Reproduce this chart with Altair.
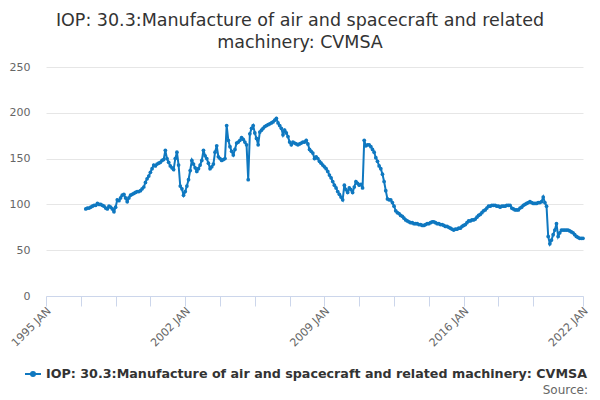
import altair as alt
import pandas as pd

# Monthly index values, Jan 1997 .. Jan 2022
v1997 = [95, 96, 96, 97, 98, 99, 99, 101, 100, 100, 99, 98]
v1998 = [96, 95, 98, 97, 95, 92, 97, 105, 104, 107, 110, 111]
v1999 = [107, 103, 107, 110, 111, 112, 113, 114, 114, 115, 117, 119]
v2000 = [124, 128, 131, 135, 139, 143, 142, 144, 145, 146, 148, 149]
v2001 = [159, 150, 146, 142, 140, 138, 150, 157, 143, 120, 117, 110]
v2002 = [114, 120, 127, 137, 148, 144, 140, 136, 139, 143, 148, 159]
v2003 = [153, 150, 145, 139, 141, 144, 157, 164, 152, 150, 148, 149]
v2004 = [150, 186, 170, 163, 158, 154, 160, 167, 168, 170, 173, 171]
v2005 = [168, 165, 127, 177, 183, 186, 178, 172, 165, 179, 181, 183]
v2006 = [185, 186, 187, 188, 189, 190, 192, 194, 189, 186, 183, 176]
v2007 = [181, 178, 174, 168, 165, 168, 167, 166, 165, 166, 167, 168]
v2008 = [168, 170, 166, 160, 158, 156, 150, 152, 150, 147, 145, 143]
v2009 = [141, 139, 136, 132, 129, 125, 121, 118, 114, 111, 108, 105]
v2010 = [121, 116, 113, 118, 116, 113, 119, 125, 123, 121, 122, 118]
v2011 = [170, 164, 165, 165, 163, 160, 157, 151, 147, 142, 139, 133]
v2012 = [125, 115, 106, 105, 105, 102, 98, 93, 91, 90, 88, 87]
v2013 = [85, 83, 82, 81, 80, 80, 79, 79, 79, 78, 78, 77]
v2014 = [77, 78, 79, 79, 80, 81, 81, 80, 79, 79, 78, 78]
v2015 = [77, 76, 76, 75, 74, 73, 72, 73, 73, 74, 74, 76]
v2016 = [77, 78, 80, 82, 82, 83, 83, 84, 86, 88, 89, 91]
v2017 = [93, 94, 96, 98, 98, 99, 99, 99, 98, 98, 97, 98]
v2018 = [98, 98, 99, 99, 99, 96, 95, 94, 94, 94, 96, 97]
v2019 = [99, 100, 101, 102, 103, 102, 101, 101, 101, 102, 102, 103]
v2020 = [108, 102, 98, 65, 57, 61, 67, 72, 79, 65, 69, 72]
v2021 = [72, 72, 72, 72, 71, 70, 69, 67, 65, 64, 63, 63]
v2022 = [63]

series_name = "IOP: 30.3:Manufacture of air and spacecraft and related machinery: CVMSA"
title_lines = ["IOP: 30.3:Manufacture of air and spacecraft and related", "machinery: CVMSA"]
x_tick_values = [1995, 1996.75, 1998.5, 2000.25, 2002, 2003.75, 2005.5, 2007.25,
                 2009, 2010.75, 2012.5, 2014.25, 2016, 2017.75, 2019.5, 2022]
x_label_years = [1995, 2002, 2009, 2016, 2022]
y_tick_values = [0, 50, 100, 150, 200, 250]

values = (v1997 + v1998 + v1999 + v2000 + v2001 + v2002 + v2003 + v2004 + v2005 +
          v2006 + v2007 + v2008 + v2009 + v2010 + v2011 + v2012 + v2013 + v2014 +
          v2015 + v2016 + v2017 + v2018 + v2019 + v2020 + v2021 + v2022)
t = [1997 + i / 12 for i in range(len(values))]
df = pd.DataFrame({"t": t, "value": values, "series": series_name})

BLUE = "#0f78c0"
FONT = "DejaVu Sans"

label_expr = ("indexof(" + str(x_label_years) + ", datum.value) >= 0 ? "
              "datum.value + ' JAN' : ''")

line = alt.Chart(df).mark_line(
    point=alt.OverlayMarkDef(filled=True, size=14, color=BLUE),
    strokeWidth=2, color=BLUE
).encode(
    x=alt.X("t:Q", title=None,
            scale=alt.Scale(domain=[1995, 2022], nice=False, zero=False),
            axis=alt.Axis(values=x_tick_values, labelExpr=label_expr,
                          grid=False, domainColor="#ccd6eb", tickColor="#ccd6eb",
                          tickSize=10, labelAngle=315, labelAlign="right",
                          labelBaseline="middle", labelPadding=3, labelOffset=3,
                          labelColor="#666666", labelFontSize=11, labelFont=FONT,
                          labelOverlap=False, labelFlush=False)),
    y=alt.Y("value:Q", title=None,
            scale=alt.Scale(domain=[0, 250], nice=False),
            axis=alt.Axis(values=y_tick_values, domain=False, ticks=False,
                          gridColor="#e6e6e6", labelPadding=16,
                          labelColor="#666666", labelFontSize=11, labelFont=FONT)),
    color=alt.Color("series:N", scale=alt.Scale(range=[BLUE]),
                    legend=alt.Legend(
                        title=None, orient="none", legendX=-22, legendY=298,
                        symbolType="M-1,0L1,0M-0.25,0A0.25,0.25,0,1,1,0.25,0A0.25,0.25,0,1,1,-0.25,0Z",
                        symbolSize=256, symbolStrokeWidth=2,
                        symbolFillColor=BLUE, symbolStrokeColor=BLUE,
                        labelFont=FONT, labelFontSize=12.7, labelFontWeight="bold",
                        labelColor="#333333", labelLimit=1000, labelOffset=4,
                        padding=0))
)

source_df = pd.DataFrame({"label": ["Source:"]})
source = alt.Chart(source_df).mark_text(
    align="right", baseline="alphabetic", font=FONT, fontSize=12, color="#666666"
).encode(x=alt.value(542), y=alt.value(327), text="label:N")

chart = alt.layer(line, source).properties(
    width=537, height=229,
    title=alt.TitleParams(text=title_lines, anchor="middle", frame="group",
                          dx=-14.5, offset=10, fontSize=17.5, font=FONT,
                          fontWeight="normal", color="#333333", lineHeight=22),
    autosize=alt.AutoSizeParams(type="none"),
    padding={"left": 38, "top": 59, "right": 9, "bottom": 104}
).configure_view(stroke=None)

chart.save("out.html", embed_options={"renderer": "svg", "actions": False})
